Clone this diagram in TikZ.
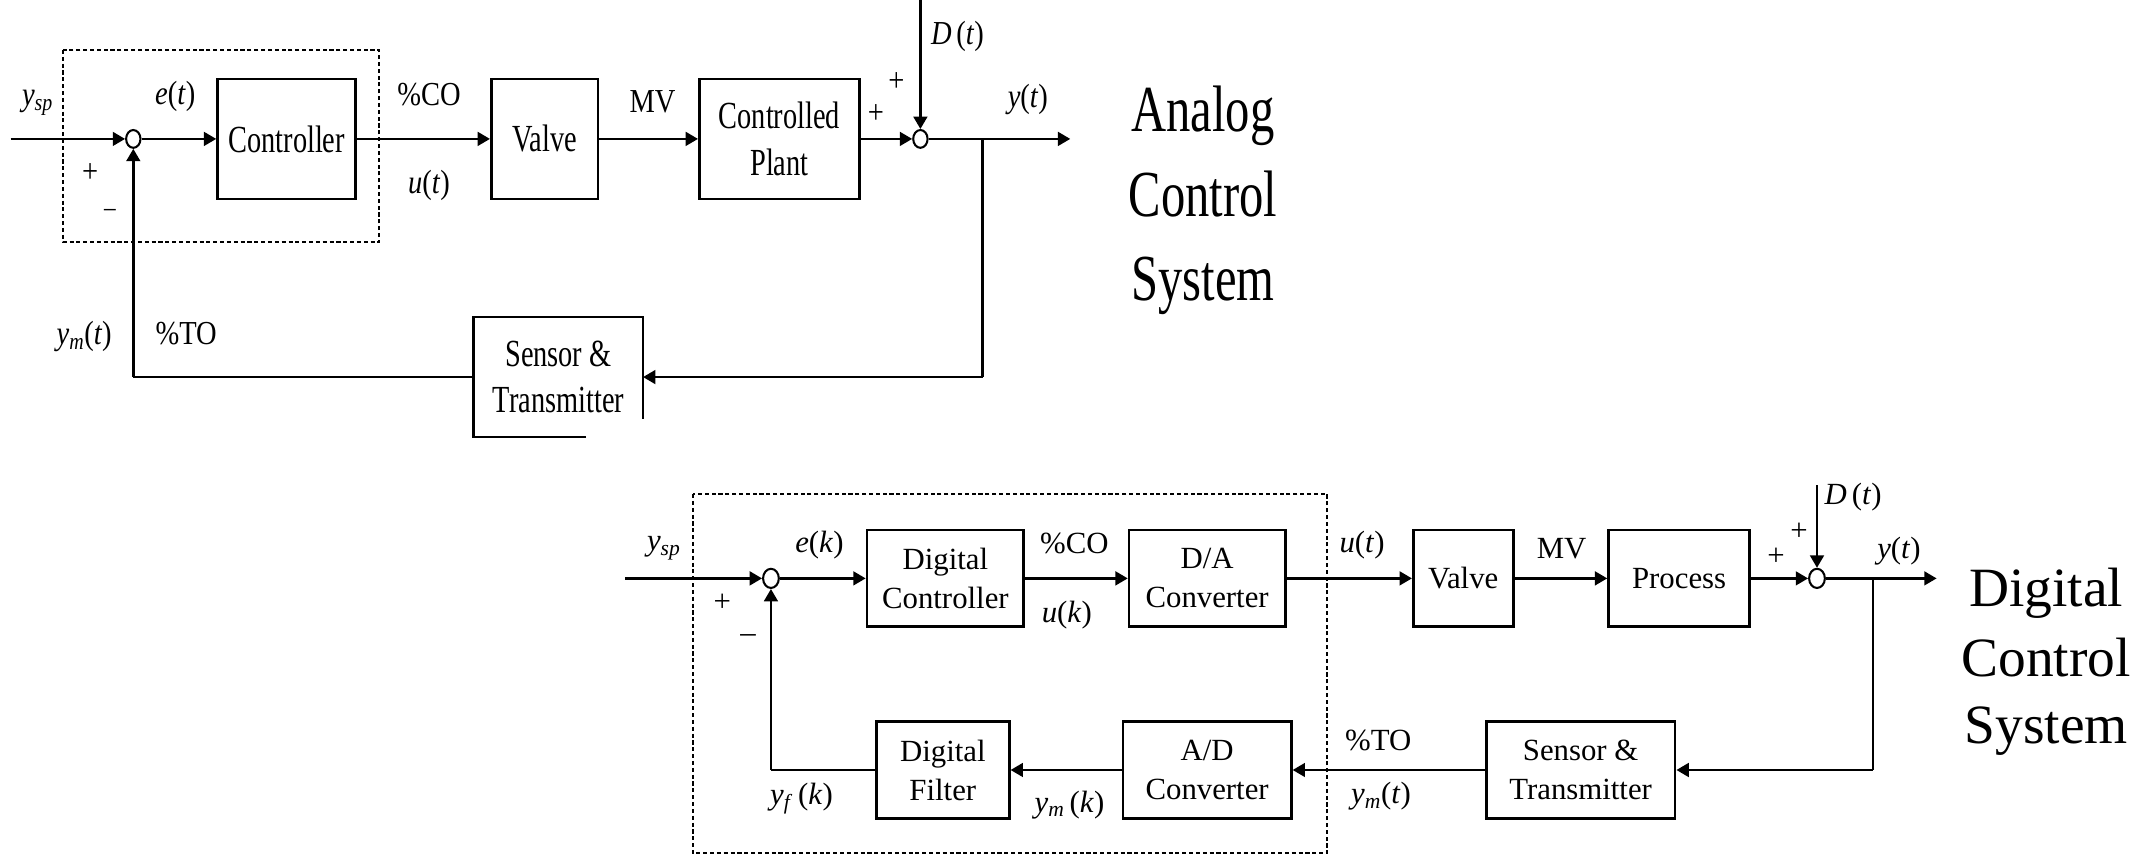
\documentclass[tikz,border=0pt]{standalone}
\usepackage{fontspec}
\setmainfont{Liberation Serif}
\usepackage{graphicx}
\usetikzlibrary{arrows.meta,shapes.geometric}
\newcommand\sA[1]{\scalebox{0.74}[1]{#1}}
\newcommand\sL[1]{\scalebox{0.85}[1]{#1}}
\newcommand\iv[1]{\textit{#1}}
\begin{document}
\begin{tikzpicture}[x=1pt,y=-1pt,
  line/.style={line width=1.8pt},
  arr/.style={line width=1.8pt,-{Triangle[length=9pt,width=10pt]}},
  tbox/.style={draw,line width=2pt,inner sep=0pt,minimum height=87.7pt,align=center,font=\fontsize{28}{34}\selectfont},
  bbox/.style={draw,line width=2pt,inner sep=0pt,minimum height=70.6pt,align=center,font=\fontsize{22.5}{28.5}\selectfont},
  tlbl/.style={inner sep=0pt,font=\fontsize{24.5}{29}\selectfont},
  blbl/.style={inner sep=0pt,font=\fontsize{22.5}{27}\selectfont},
  ttitle/.style={inner sep=0pt,anchor=base,font=\fontsize{48}{60}\selectfont},
  btitle/.style={inner sep=0pt,anchor=base,font=\fontsize{40.5}{50}\selectfont},
  tsum/.style={draw,ellipse,line width=1.5pt,minimum width=10.5pt,minimum height=13pt,inner sep=0pt},
  bsum/.style={draw,ellipse,line width=1.5pt,minimum width=11.5pt,minimum height=14pt,inner sep=0pt},
  dbox/.style={line width=1.5pt,dash pattern=on 3pt off 2pt}
]
\useasboundingbox[fill=white] (0,0) rectangle (1568,626);

% ---------------- Analog (top) ----------------
\draw[dbox] (46.3,36.5) rectangle (277,177);
\node[tsum] (s1) at (97.4,101.5) {};
\node[tbox,minimum width=101pt] (ctrl) at (209.5,101.5) {\sA{Controller}};
\node[tbox,minimum width=78pt] (valve) at (398,101.5) {\sA{Valve}};
\node[tbox,minimum width=117pt] (plant) at (569.5,101.5) {\sA{Controlled}\\\sA{Plant}};
\node[tsum] (s2) at (672.5,101.5) {};
\coordinate (in1) at (7.7,101.5);
\coordinate (br1) at (718,101.5);
\coordinate (out1) at (782,101.5);
\coordinate (dt1) at (672.5,0);
\coordinate (fr1) at (718,275.5);
\coordinate (fl1) at (97.4,275.5);
\node[inner sep=0pt,minimum width=123.3pt,minimum height=87.2pt,align=center,font=\fontsize{28}{34}\selectfont] (sens1) at (408,275.5) {\sA{Sensor \&}\\\sA{Transmitter}};
\draw[line width=2pt] ([xshift=20.2pt]sens1.south) -- (sens1.south west) -- (sens1.north west) -- (sens1.north east) -- ([yshift=12.9pt]sens1.south east);

\draw[arr] (in1) -- (s1.west);
\draw[arr] (s1.east) -- (ctrl.west);
\draw[arr] (ctrl.east) -- (valve.west);
\draw[arr] (valve.east) -- (plant.west);
\draw[arr] (plant.east) -- (s2.west);
\draw[arr] (dt1) -- (s2.north);
\draw[arr] (s2.east) -- (out1);
\draw[line] (br1) -- (fr1);
\draw[arr] (fr1) -- (sens1.east);
\draw[line] (sens1.west) -- (fl1);
\draw[arr] (fl1) -- (s1.south);

\node[tlbl] (l1) at (27.4,75) {\sL{\iv{y}\textsubscript{\iv{sp}}}};
\node[tlbl] (l2) at (65.8,126.6) {\sL{+}};
\node[tlbl,font=\fontsize{20}{24}\selectfont] (l3) at (80.4,155.9) {\sL{–}};
\node[tlbl] (l4) at (128,70.6) {\sL{\iv{e}(\iv{t})}};
\node[tlbl] (l5) at (313.5,68.8) {\sL{\%CO}};
\node[tlbl] (l6) at (313.5,135.8) {\sL{\iv{u}(\iv{t})}};
\node[tlbl] (l7) at (476.8,74.3) {\sL{MV}};
\node[tlbl] (l8) at (655,60) {\sL{+}};
\node[tlbl] (l9) at (640,83) {\sL{+}};
\node[tlbl] (l10) at (699.6,26.3) {\sL{\iv{D}\,(\iv{t})}};
\node[tlbl] (l11) at (751,73) {\sL{\iv{y}(\iv{t})}};
\node[tlbl] (l12) at (61.5,246) {\sL{\iv{y}\textsubscript{\iv{m}}(\iv{t})}};
\node[tlbl] (l13) at (136,243.5) {\sL{\%TO}};

\node[ttitle] (t1) at (879,96.2) {\sA{Analog}};
\node[ttitle] (t2) at (879,158.3) {\sA{Control}};
\node[ttitle] (t3) at (879,219.2) {\sA{System}};

% ---------------- Digital (bottom) ----------------
\draw[dbox] (506.3,361) rectangle (969.6,623.5);
\node[bsum] (s3) at (563.3,422.6) {};
\node[bbox,minimum width=114.5pt] (dctrl) at (690.75,422.6) {Digital\\Controller};
\node[bbox,minimum width=114pt] (da) at (882,422.6) {D/A\\Converter};
\node[bbox,minimum width=73pt] (valve2) at (1069.15,422.6) {Valve};
\node[bbox,minimum width=103pt] (proc) at (1226.85,422.6) {Process};
\node[bsum] (s4) at (1327.6,422.6) {};
\coordinate (in2) at (457,422.6);
\coordinate (br2) at (1368.5,422.6);
\coordinate (out2) at (1415,422.6);
\coordinate (dt2) at (1327.6,354.4);
\coordinate (fr2) at (1368.5,562.6);
\coordinate (fl2) at (563.3,562.6);
\node[bbox,minimum width=138pt] (sens2) at (1154.9,562.6) {Sensor \&\\Transmitter};
\node[bbox,minimum width=123pt] (ad) at (882,562.6) {A/D\\Converter};
\node[bbox,minimum width=97pt] (filt) at (688.9,562.6) {Digital\\Filter};

\draw[arr] (in2) -- (s3.west);
\draw[arr] (s3.east) -- (dctrl.west);
\draw[arr] (dctrl.east) -- (da.west);
\draw[arr] (da.east) -- (valve2.west);
\draw[arr] (valve2.east) -- (proc.west);
\draw[arr] (proc.east) -- (s4.west);
\draw[arr] (dt2) -- (s4.north);
\draw[arr] (s4.east) -- (out2);
\draw[line] (br2) -- (fr2);
\draw[arr] (fr2) -- (sens2.east);
\draw[arr] (sens2.west) -- (ad.east);
\draw[arr] (ad.west) -- (filt.east);
\draw[line] (filt.west) -- (fl2);
\draw[arr] (fl2) -- (s3.south);

\node[blbl] (m1) at (485,400.6) {\iv{y}\textsubscript{\iv{sp}}};
\node[blbl] (m2) at (527.8,440.8) {+};
\node[blbl] (m3) at (546.6,466.4) {–};
\node[blbl] (m4) at (598.7,398.2) {\iv{e}(\iv{k})};
\node[blbl] (m5) at (785,397) {\%CO};
\node[blbl] (m6) at (779.5,449.4) {\iv{u}(\iv{k})};
\node[blbl] (m7) at (995.2,398.2) {\iv{u}(\iv{t})};
\node[blbl] (m8) at (1141,400.7) {MV};
\node[blbl] (m9) at (1297.6,406.8) {+};
\node[blbl] (m10) at (1314.5,388.5) {+};
\node[blbl] (m11) at (1354,363) {\iv{D}\,(\iv{t})};
\node[blbl] (m12) at (1387.5,403) {\iv{y}(\iv{t})};
\node[blbl] (m13) at (1007,540.7) {\%TO};
\node[blbl] (m14) at (1009,582) {\iv{y}\textsubscript{\iv{m}}(\iv{t})};
\node[blbl] (m15) at (781.4,588.2) {\iv{y}\textsubscript{\iv{m}}\,(\iv{k})};
\node[blbl] (m16) at (585.6,583.3) {\iv{y}\textsubscript{\iv{f}}\,(\iv{k})};

\node[btitle] (u1) at (1495,443.3) {Digital};
\node[btitle] (u2) at (1495,494.4) {Control};
\node[btitle] (u3) at (1495,543.1) {System};
\end{tikzpicture}
\end{document}
